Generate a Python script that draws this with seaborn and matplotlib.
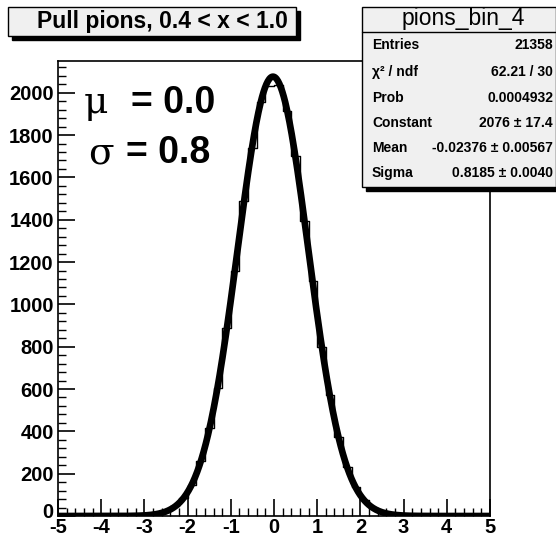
import numpy as np
import pandas as pd
import matplotlib
matplotlib.use("Agg")
import matplotlib.pyplot as plt
import matplotlib.transforms as mtransforms
import seaborn as sns
from matplotlib.patches import Rectangle
from matplotlib.ticker import MultipleLocator

# ---- data ----
bin_edges = [round(-5 + 0.2 * i, 1) for i in range(51)]
bin_centers = [round(-4.9 + 0.2 * i, 1) for i in range(50)]
counts = [0, 0, 1, 0, 1, 1, 2, 2, 3, 4,
          7, 12, 24, 46, 86, 148, 262, 414, 603, 890,
          1158, 1490, 1740, 1958, 2030, 2035, 1912, 1702, 1395, 1110,
          798, 570, 372, 230, 135, 76, 40, 20, 10, 6,
          3, 2, 2, 1, 1, 0, 1, 0, 0, 0]
fit_constant = 2076.0
fit_mean = -0.02376
fit_sigma = 0.8185
x_ticks = [-5, -4, -3, -2, -1, 0, 1, 2, 3, 4, 5]
y_ticks = [0, 200, 400, 600, 800, 1000, 1200, 1400, 1600, 1800, 2000]
title_text = "Pull pions, 0.4 < x < 1.0"
stats_title = "pions_bin_4"
stats_rows = [("Entries", "21358"),
              ("χ² / ndf", "62.21 / 30"),
              ("Prob", "0.0004932"),
              ("Constant", "2076 ± 17.4"),
              ("Mean", "-0.02376 ± 0.00567"),
              ("Sigma", "0.8185 ± 0.0040")]

sns.set_theme(style="white")
plt.rcParams['font.family'] = ['Liberation Sans', 'DejaVu Sans']
plt.rcParams['axes.unicode_minus'] = False
plt.rcParams['text.color'] = 'black'
plt.rcParams['xtick.color'] = 'black'
plt.rcParams['ytick.color'] = 'black'
plt.rcParams['xtick.labelcolor'] = 'black'
plt.rcParams['ytick.labelcolor'] = 'black'

W, H = 556, 537
fig = plt.figure(figsize=(W / 100, H / 100), dpi=100)
fig.patch.set_facecolor("white")

def fx(px):
    return px / W

def fy(py):
    return 1 - py / H

ax_left, ax_right, ax_top, ax_bottom = 58, 490, 61, 516
ax = fig.add_axes([fx(ax_left), fy(ax_bottom), fx(ax_right - ax_left), (ax_bottom - ax_top) / H])
ax.set_facecolor("white")

df = pd.DataFrame({"x": bin_centers, "w": counts})
sns.histplot(data=df, x="x", weights="w", bins=bin_edges, element="step",
             fill=False, color="black", linewidth=1.0, ax=ax)

xf = np.linspace(-5, 5, 600)
yf = fit_constant * np.exp(-0.5 * ((xf - fit_mean) / fit_sigma) ** 2)
sns.lineplot(x=xf, y=yf, color="black", linewidth=4.8, ax=ax, zorder=3)

ax.set_xlim(-5, 5)
ax.set_ylim(0, 2150)
ax.set_xlabel("")
ax.set_ylabel("")
ax.set_xticks(x_ticks)
ax.set_yticks(y_ticks)
ax.set_xticklabels([str(v) for v in x_ticks], fontweight="bold", fontsize=14.5, color="black")
ax.set_yticklabels([str(v) for v in y_ticks], fontweight="bold", fontsize=14.5, color="black")
ax.xaxis.set_minor_locator(MultipleLocator(0.2))
ax.yaxis.set_minor_locator(MultipleLocator(40))
ax.tick_params(axis="x", which="major", pad=1.5)
ax.tick_params(axis="y", which="major", pad=3)
ax.tick_params(axis="both", which="major", direction="in", length=12, width=1.2,
               color="black", bottom=True, left=True, top=False, right=False)
ax.tick_params(axis="both", which="minor", direction="in", length=6, width=1.0,
               color="black", bottom=True, left=True, top=False, right=False)
for s in ax.spines.values():
    s.set_color("black")
    s.set_linewidth(1.2)
ax.grid(False)

# nudge the "0" y label up a little, as in the reference
zero_lab = ax.get_yticklabels()[0]
zero_lab.set_transform(zero_lab.get_transform() +
                       mtransforms.ScaledTranslation(0, 5 / 100, fig.dpi_scale_trans))

# big annotations
fig.text(fx(84), fy(113), "μ", fontsize=27, family="DejaVu Serif", va="baseline", ha="left")
fig.text(fx(131), fy(113), "= 0.0", fontsize=27, fontweight="bold", va="baseline", ha="left")
fig.text(fx(88), fy(163), "σ", fontsize=27, family="DejaVu Serif", va="baseline", ha="left")
fig.text(fx(126), fy(163), "= 0.8", fontsize=27, fontweight="bold", va="baseline", ha="left")

# boxes with shadow
def box(x0, y0, x1, y1, face, shadow=4):
    fig.patches.append(Rectangle((fx(x0 + shadow), fy(y1 + shadow)), fx(x1 - x0), (y1 - y0) / H,
                                 transform=fig.transFigure, facecolor="black", edgecolor="black",
                                 zorder=10))
    fig.patches.append(Rectangle((fx(x0), fy(y1)), fx(x1 - x0), (y1 - y0) / H,
                                 transform=fig.transFigure, facecolor=face, edgecolor="black",
                                 linewidth=1.0, zorder=11))

box(8, 7, 296, 36, "#f0f0f0")
fig.text(fx(162), fy(21.5), title_text, fontsize=16.5, fontweight="bold", ha="center",
         va="center", zorder=12)

# stats box
box(362, 7, 556, 187, "#f0f0f0")
fig.lines.append(plt.Line2D([fx(362), fx(556)], [fy(32), fy(32)], transform=fig.transFigure,
                            color="black", linewidth=1.0, zorder=12))
fig.text(fx(463), fy(19), stats_title, fontsize=16.5, ha="center", va="center", zorder=12)
row_y = [45, 72, 98, 123, 148, 173]
for (lab, val), ry in zip(stats_rows, row_y):
    fig.text(fx(372), fy(ry), lab, fontsize=10, fontweight="bold", ha="left", va="center", zorder=12)
    fig.text(fx(553), fy(ry), val, fontsize=10, fontweight="bold", ha="right", va="center", zorder=12)

fig.savefig("out.png", dpi=100)
